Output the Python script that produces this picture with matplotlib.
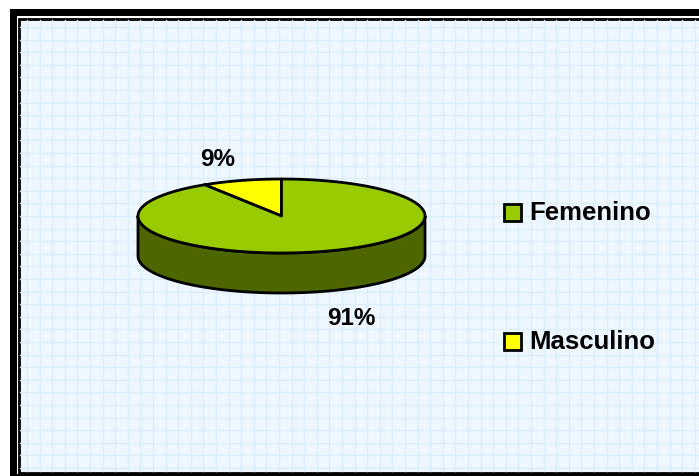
import numpy as np
import matplotlib
matplotlib.use("Agg")
import matplotlib.pyplot as plt
from matplotlib.patches import Polygon, Rectangle

# ---- data ----
categories = ["Femenino", "Masculino"]
values = [91, 9]
pct_labels = ["91%", "9%"]
top_colors = ["#99CC00", "#FFFF00"]
side_colors = ["#4D6600", "#808000"]

W, H = 699, 476
fig = plt.figure(figsize=(W / 100, H / 100), dpi=100)
fig.patch.set_facecolor("white")
ax = fig.add_axes([0, 0, 1, 1])
ax.set_xlim(0, W)
ax.set_ylim(H, 0)
ax.axis("off")

# ---- frame and background ----
ax.add_patch(Rectangle((10, 9), W, H, facecolor="black", edgecolor="none", zorder=0))
ax.add_patch(Rectangle((17, 16), W, 458, facecolor="white", edgecolor="none", zorder=0.1))
ax.add_patch(Rectangle((19, 18.5), W, 454, facecolor="#EEF7FE", edgecolor="black", lw=2, zorder=0.2))
for gx in np.arange(27, W, 12.6):
    ax.plot([gx, gx], [20, 471], color="#DCEEFC", lw=1, zorder=0.3)
for gy in np.arange(27, 471, 12.6):
    ax.plot([20, W], [gy, gy], color="#DCEEFC", lw=1, zorder=0.3)

# ---- 3D pie ----
cx, cy, rx, ry, depth = 281.5, 216, 143.5, 37, 40
start = 90.0
fracs = np.array(values, dtype=float) / sum(values)
order = [1, 0]
angles = {}
a = start
for i in order:
    span = fracs[i] * 360
    angles[i] = (a, a + span)
    a += span

def ell(t, dy=0.0):
    t = np.radians(t)
    return cx + rx * np.cos(t), cy - ry * np.sin(t) + dy

# sides (front half: 180..360)
for i in order:
    a0, a1 = angles[i]
    for off in (0, 360, -360):
        lo, hi = max(a0 + off, 180), min(a1 + off, 360)
        if hi > lo:
            ts = np.linspace(lo, hi, 200)
            xt, yt = ell(ts)
            xb, yb = ell(ts[::-1], depth)
            pts = np.column_stack([np.concatenate([xt, xb]), np.concatenate([yt, yb])])
            ax.add_patch(Polygon(pts, closed=True, facecolor=side_colors[i],
                                 edgecolor="black", lw=2, joinstyle="round", zorder=2))

# tops
for i in order:
    a0, a1 = angles[i]
    ts = np.linspace(a0, a1, 300)
    xs, ys = ell(ts)
    pts = np.column_stack([np.concatenate([[cx], xs]), np.concatenate([[cy], ys])])
    ax.add_patch(Polygon(pts, closed=True, facecolor=top_colors[i],
                         edgecolor="black", lw=2, joinstyle="round", zorder=3))

# percentage labels
fp = dict(family=["Liberation Sans", "DejaVu Sans"], weight="bold", color="black")
for i in order:
    a0, a1 = angles[i]
    mid = (a0 + a1) / 2
    front = np.sin(np.radians(mid)) < 0
    k = 1.75 if front else 1.6
    lx, ly = ell(mid)
    lx = cx + (lx - cx) * k
    ly = cy + (ly - cy) * k + (depth if front else 0)
    ax.text(lx, ly, pct_labels[i], fontsize=17.5, ha="center", va="center", zorder=5, **fp)

# legend
leg_y = [212, 341]
for i, yy in zip(range(len(categories)), leg_y):
    ax.add_patch(Rectangle((504, yy - 8.5), 17, 17, facecolor=top_colors[i],
                           edgecolor="black", lw=2, zorder=5))
    ax.text(529, yy + 1, categories[i], fontsize=18.5, ha="left", va="center", zorder=5, **fp)

fig.savefig("out.png", dpi=100)
